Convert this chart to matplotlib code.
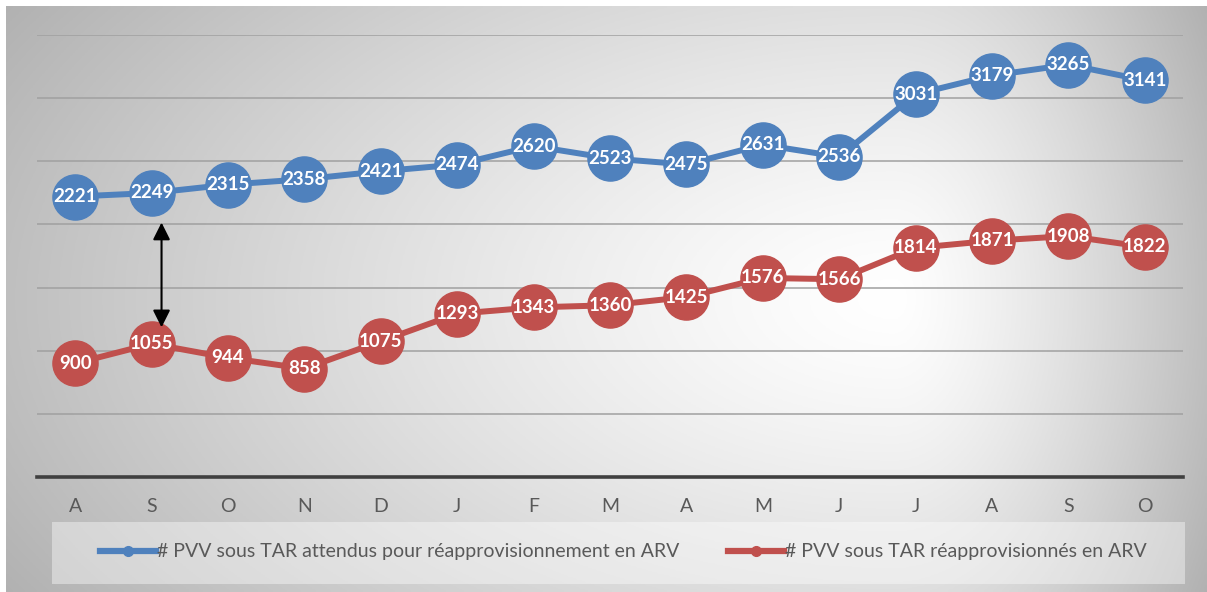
import numpy as np
import matplotlib
matplotlib.use('Agg')
import matplotlib.pyplot as plt
from matplotlib.patches import Rectangle

# data
months = ['A', 'S', 'O', 'N', 'D', 'J', 'F', 'M', 'A', 'M', 'J', 'J', 'A', 'S', 'O']
attendus = [2221, 2249, 2315, 2358, 2421, 2474, 2620, 2523, 2475, 2631, 2536, 3031, 3179, 3265, 3141]
reappro = [900, 1055, 944, 858, 1075, 1293, 1343, 1360, 1425, 1576, 1566, 1814, 1871, 1908, 1822]
lab_attendus = '# PVV sous TAR attendus pour réapprovisionnement en ARV'
lab_reappro = '# PVV sous TAR réapprovisionnés en ARV'

blue = '#4f81bd'
red = '#c0504d'
txt_col = '#595959'

plt.rcParams['font.family'] = ['Lato', 'DejaVu Sans']

W, H = 1207, 592
fig = plt.figure(figsize=(W / 100, H / 100), dpi=100)

# background with radial-ish gradient
bg = fig.add_axes([6 / W, 0, 1 - 6 / W, 1 - 6 / H])
bg.set_axis_off()
nx, ny = 400, 200
xx, yy = np.meshgrid(np.linspace(0, 1, nx), np.linspace(0, 1, ny))
cx, cy = 0.74, 0.50
u = np.where(xx < cx, (cx - xx) / cx, (xx - cx) / (1 - cx))
v = np.where(yy < cy, (cy - yy) / cy, (yy - cy) / (1 - cy))
r = np.sqrt(u ** 2 + 0.35 * v ** 2)
g = 1 - 0.25 * np.clip(r, 0, 1.2) ** 1.3
img = np.dstack([g, g, g])
bg.imshow(img, extent=[0, 1, 0, 1], aspect='auto', origin='upper')
bg.set_xlim(0, 1)
bg.set_ylim(0, 1)

# legend box
lx0, ly0 = (52 - 6) / (W - 6), 1 - (584 - 6) / (H - 6)
lx1, ly1 = (1185 - 6) / (W - 6), 1 - (522 - 6) / (H - 6)
bg.add_patch(Rectangle((lx0, ly0), lx1 - lx0, ly1 - ly0, transform=bg.transAxes,
                       facecolor='white', alpha=0.4, edgecolor='none'))

ax = fig.add_axes([37 / W, 1 - 477 / H, (1183 - 37) / W, (477 - 35) / H])
ax.patch.set_alpha(0)
x = np.arange(len(months))
ax.plot(x, attendus, color=blue, lw=4.3, marker='o', ms=32.5, mec=blue, mfc=blue,
        label=lab_attendus, zorder=3)
ax.plot(x, reappro, color=red, lw=4.3, marker='o', ms=32.5, mec=red, mfc=red,
        label=lab_reappro, zorder=3)
for xi, a, b in zip(x, attendus, reappro):
    ax.text(xi, a, str(a), color='white', fontweight='bold', fontsize=13.5,
            ha='center', va='center', zorder=4)
    ax.text(xi, b, str(b), color='white', fontweight='bold', fontsize=13.5,
            ha='center', va='center', zorder=4)

# gap arrow between the two series at S
ax.annotate('', xy=(1.13, 2015), xytext=(1.13, 1185),
            arrowprops=dict(arrowstyle='<|-|>', color='black', lw=1.5,
                            mutation_scale=26, shrinkA=0, shrinkB=0), zorder=5)

ax.set_xlim(-0.5, len(months) - 0.5)
ax.set_ylim(0, 3500)
ax.set_yticks(np.arange(500, 3501, 500))
ax.yaxis.grid(True, color='#a0a0a0', lw=1.1)
ax.set_axisbelow(True)
ax.tick_params(axis='y', left=False, labelleft=False)
ax.set_xticks(x)
ax.set_xticklabels(months, color=txt_col, fontsize=14)
ax.tick_params(axis='x', length=0, pad=15)
for s in ['top', 'right', 'left']:
    ax.spines[s].set_visible(False)
ax.spines['bottom'].set_color('#404040')
ax.spines['bottom'].set_linewidth(2.6)

h1 = plt.Line2D([], [], color=blue, lw=4.5, marker='o', ms=7)
h2 = plt.Line2D([], [], color=red, lw=4.5, marker='o', ms=7)
legkw = dict(loc='center left', frameon=False, fontsize=14, handlelength=2.9,
             handletextpad=0.02, borderpad=0, borderaxespad=0, labelcolor=txt_col)
leg1 = fig.legend([h1], [lab_attendus], bbox_to_anchor=(100 / W, 1 - 552 / H), **legkw)
leg2 = fig.legend([h2], [lab_reappro], bbox_to_anchor=(728 / W, 1 - 552 / H), **legkw)

fig.savefig('out.png', dpi=100)
